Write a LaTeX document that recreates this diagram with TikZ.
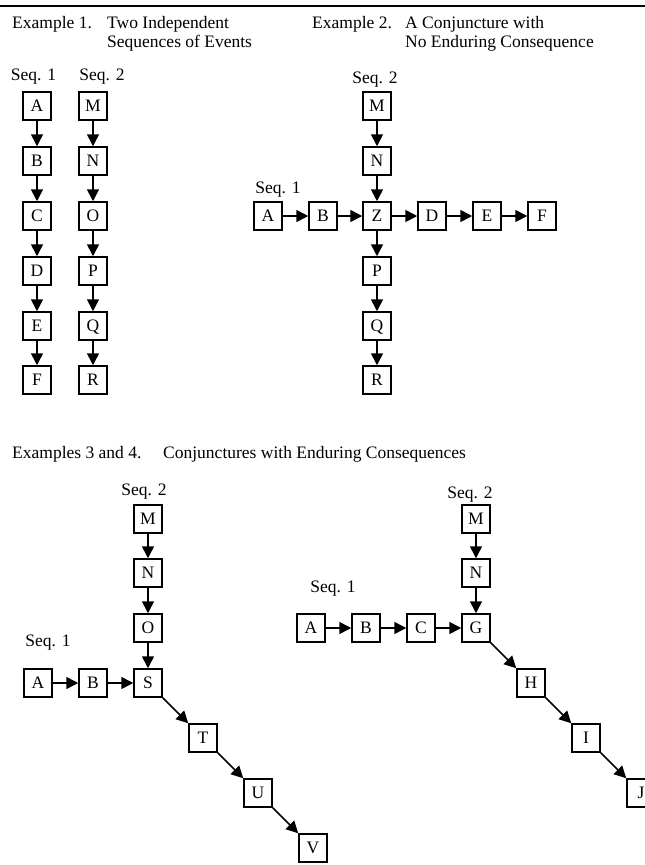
\documentclass[tikz,border=0pt]{standalone}
\usepackage{fontspec}
\setmainfont{Liberation Serif}
\usetikzlibrary{arrows.meta}

\begin{document}
\begin{tikzpicture}
  [x=1pt,y=-1pt,
   every node/.style={font=\fontsize{17.5}{20}\selectfont,inner sep=0pt},
   evbox/.style={draw=black,line width=1.5pt,minimum width=28pt,minimum height=28pt,text height=11.5pt,text depth=0pt},
   seqarrow/.style={line width=1.6pt,-{Triangle[length=12pt,width=12pt]}},
   seqlabel/.style={anchor=base},
   headtext/.style={anchor=base west}]
  \useasboundingbox (0,0) rectangle (645,865);
  \draw[line width=1.4pt] (0,6) -- (645,6);

  % headings
  \node[headtext] (h1) at (12,28) {Example 1.};
  \node[headtext] (h1a) at (107,28) {Two Independent};
  \node[headtext] (h1b) at (107,47) {Sequences of Events};
  \node[headtext] (h2) at (312,28) {Example 2.};
  \node[headtext] (h2a) at (405,28) {A Conjuncture with};
  \node[headtext] (h2b) at (405,47) {No Enduring Consequence};
  \node[headtext] (h3) at (12,458) {Examples 3 and 4.};
  \node[headtext] (h3a) at (163,458) {Conjunctures with Enduring Consequences};

  % example 1
  \node[seqlabel] (s11) at (33.5,80) {Seq. 1};
  \node[seqlabel] (s12) at (102,80) {Seq. 2};
  \node[evbox] (a1) at (37,106) {A};
  \node[evbox] (b1) at (37,161) {B};
  \node[evbox] (c1) at (37,216) {C};
  \node[evbox] (d1) at (37,271) {D};
  \node[evbox] (e1) at (37,326) {E};
  \node[evbox] (f1) at (37,380) {F};
  \node[evbox] (m1) at (93,106) {M};
  \node[evbox] (n1) at (93,161) {N};
  \node[evbox] (o1) at (93,216) {O};
  \node[evbox] (p1) at (93,271) {P};
  \node[evbox] (q1) at (93,326) {Q};
  \node[evbox] (r1) at (93,380) {R};

  % example 2
  \node[seqlabel] (s22) at (375,83) {Seq. 2};
  \node[seqlabel] (s21) at (278,193) {Seq. 1};
  \node[evbox] (m2) at (377,106) {M};
  \node[evbox] (n2) at (377,161) {N};
  \node[evbox] (z2) at (377,216) {Z};
  \node[evbox] (p2) at (377,271) {P};
  \node[evbox] (q2) at (377,326) {Q};
  \node[evbox] (r2) at (377,380) {R};
  \node[evbox] (a2) at (268,216) {A};
  \node[evbox] (b2) at (323,216) {B};
  \node[evbox] (d2) at (432,216) {D};
  \node[evbox] (e2) at (487,216) {E};
  \node[evbox] (f2) at (542,216) {F};

  % example 3
  \node[seqlabel] (s32) at (144,495) {Seq. 2};
  \node[seqlabel] (s31) at (48,646) {Seq. 1};
  \node[evbox] (m3) at (148,519) {M};
  \node[evbox] (n3) at (148,573) {N};
  \node[evbox] (o3) at (148,628) {O};
  \node[evbox] (s3) at (148,683) {S};
  \node[evbox] (a3) at (38,683) {A};
  \node[evbox] (b3) at (93,683) {B};
  \node[evbox] (t3) at (203,738) {T};
  \node[evbox] (u3) at (258,793) {U};
  \node[evbox] (v3) at (313,848) {V};

  % example 4
  \node[seqlabel] (s42) at (470,498) {Seq. 2};
  \node[seqlabel] (s41) at (333,592) {Seq. 1};
  \node[evbox] (m4) at (476,519) {M};
  \node[evbox] (n4) at (476,573) {N};
  \node[evbox] (g4) at (476,628) {G};
  \node[evbox] (a4) at (311,628) {A};
  \node[evbox] (b4) at (366,628) {B};
  \node[evbox] (c4) at (421,628) {C};
  \node[evbox] (h4) at (531,683) {H};
  \node[evbox] (i4) at (586,738) {I};
  \node[evbox] (j4) at (641,793) {J};

  \foreach \from/\to in {a1/b1, b1/c1, c1/d1, d1/e1, e1/f1, m1/n1, n1/o1, o1/p1, p1/q1, q1/r1,
                         m2/n2, n2/z2, z2/p2, p2/q2, q2/r2, a2/b2, b2/z2, z2/d2, d2/e2, e2/f2,
                         m3/n3, n3/o3, o3/s3, a3/b3, b3/s3,
                         m4/n4, n4/g4, a4/b4, b4/c4, c4/g4}
  \draw[seqarrow] (\from) -- (\to);

  \foreach \from/\to in {s3/t3, t3/u3, u3/v3, g4/h4, h4/i4, i4/j4}
  \draw[seqarrow] (\from.south east) -- (\to.north west);
\end{tikzpicture}
\end{document}
